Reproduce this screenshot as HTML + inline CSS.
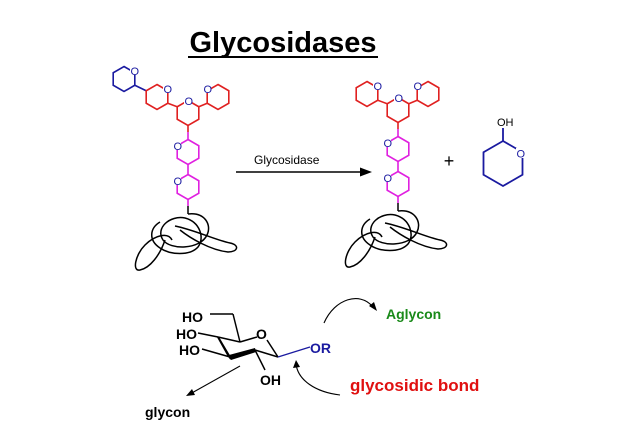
<!DOCTYPE html>
<html><head><style>
html,body{margin:0;padding:0;background:#fff;}
svg{display:block;font-family:"Liberation Sans",Arial,sans-serif;}
</style></head><body>
<svg width="638" height="430" viewBox="0 0 638 430" xmlns="http://www.w3.org/2000/svg">
<defs>
<polygon id="hx" points="0,-12.5 10.8,-6.25 10.8,6.25 0,12.5 -10.8,6.25 -10.8,-6.25" fill="none" stroke-width="1.6"/>
<g id="tree">
  <g stroke="#e02020" fill="none" stroke-width="1.6">
    <use href="#hx" x="157" y="97"/>
    <use href="#hx" x="188" y="113"/>
    <use href="#hx" x="218" y="97"/>
    <line x1="167.8" y1="103.25" x2="177.2" y2="106.75"/>
    <line x1="198.8" y1="106.75" x2="207.2" y2="103.25"/>
    <line x1="188" y1="125.5" x2="188" y2="132"/>
  </g>
  <g stroke="#e020e0" fill="none" stroke-width="1.6">
    <line x1="188" y1="132" x2="188" y2="139.5"/>
    <use href="#hx" x="188" y="152"/>
    <use href="#hx" x="188" y="187"/>
    <line x1="188" y1="164.5" x2="188" y2="174.5"/>
    <line x1="188" y1="199.5" x2="188" y2="206"/>
  </g>
  <g stroke="#000" fill="none" stroke-width="1.5">
    <line x1="188" y1="206" x2="188" y2="214"/>
    <path d="M188,214 C205,212 212,225 207,235 C200,250 170,250 163,240 C155,228 170,215 185,218 C200,222 205,238 198,247 C190,256 170,255 160,248 C148,240 150,228 160,222"/>
    <path d="M175,226 C195,230 215,240 230,243 C240,245 238,252 228,252 C210,250 190,238 180,230"/>
    <path d="M165,240 C160,255 150,268 140,270 C132,272 135,255 145,245 C155,235 168,232 172,240"/>
  </g>
  <g fill="#1a1aa0" font-size="11">
    <rect x="163" y="84" width="8" height="9" fill="#fff"/><text x="163.5" y="93">O</text>
    <rect x="184" y="96" width="8" height="9" fill="#fff"/><text x="184.5" y="105">O</text>
    <rect x="203" y="84" width="8" height="9" fill="#fff"/><text x="203.5" y="93">O</text>
    <rect x="173" y="141" width="8" height="9" fill="#fff"/><text x="173.5" y="150">O</text>
    <rect x="173" y="176" width="8" height="9" fill="#fff"/><text x="173.5" y="185">O</text>
  </g>
</g>
</defs>

<text x="283" y="52" text-anchor="middle" font-size="29" font-weight="bold">Glycosidases</text>
<line x1="188" y1="57" x2="378" y2="57" stroke="#000" stroke-width="2"/>

<!-- left -->
<g stroke="#1a1aa0" fill="none" stroke-width="1.6">
  <use href="#hx" x="124" y="79"/>
  <line x1="134.8" y1="85.25" x2="146.2" y2="90.75"/>
</g>
<rect x="130" y="66" width="8" height="9" fill="#fff"/><text x="130.5" y="75" font-size="11" fill="#1a1aa0">O</text>
<use href="#tree"/>

<!-- arrow -->
<text x="254" y="164" font-size="12">Glycosidase</text>
<line x1="236" y1="172" x2="364" y2="172" stroke="#000" stroke-width="1.5"/>
<polygon points="372,172 360,167.5 360,176.5" fill="#000"/>

<!-- right -->
<use href="#tree" transform="translate(210,-3)"/>
<text x="449" y="167" font-size="18" text-anchor="middle">+</text>
<g stroke="#1a1aa0" fill="none" stroke-width="1.8">
  <polygon points="503,141 522.5,152.25 522.5,174.75 503,186 483.5,174.75 483.5,152.25"/>
  <line x1="503" y1="141" x2="503" y2="128"/>
</g>
<rect x="516" y="148" width="9" height="10" fill="#fff"/><text x="516.5" y="157.5" font-size="11" fill="#1a1aa0">O</text>
<text x="497" y="126" font-size="11" fill="#000">OH</text>

<!-- glucose -->
<g stroke="#000" fill="none" stroke-width="1.5">
  <line x1="233" y1="314" x2="210" y2="314"/>
  <line x1="233" y1="314" x2="240" y2="342"/>
  <line x1="240" y1="342" x2="257" y2="337"/>
  <line x1="267" y1="340" x2="278" y2="357"/>
  <line x1="218" y1="337" x2="240" y2="342"/>
  <line x1="218" y1="337" x2="198" y2="333"/>
  <line x1="230" y1="357" x2="202" y2="349"/>
  <line x1="255" y1="350" x2="278" y2="357"/>
  <line x1="255" y1="350" x2="265" y2="370"/>
</g>
<polygon points="218,337 231,359 228,355" fill="#000" stroke="#000" stroke-width="2"/>
<polygon points="229,355 255,348 256,352 231,360" fill="#000"/>
<line x1="278" y1="357" x2="310" y2="347" stroke="#1a1aa0" stroke-width="1.3"/>
<g font-size="14" font-weight="bold">
  <text x="182" y="322">HO</text>
  <text x="176" y="339">HO</text>
  <text x="179" y="355">HO</text>
  <text x="256" y="339">O</text>
  <text x="260" y="385">OH</text>
  <text x="310" y="353" fill="#1a1aa0">OR</text>
  <text x="145" y="417">glycon</text>
  <text x="386" y="319" fill="#1a8a1a">Aglycon</text>
  <text x="350" y="391" fill="#e01010" font-size="17">glycosidic bond</text>
</g>
<g stroke="#000" fill="none" stroke-width="1.1">
  <line x1="240" y1="366" x2="190" y2="394"/>
  <path d="M324,323 C335,298 360,292 372,306"/>
  <path d="M340,395 C315,392 298,380 296,364"/>
</g>
<polygon points="186,396 192,389 195,395" fill="#000"/>
<polygon points="377,311 369,306 374,302" fill="#000"/>
<polygon points="296,360 293,368 300,367" fill="#000"/>
</svg>
</body></html>
